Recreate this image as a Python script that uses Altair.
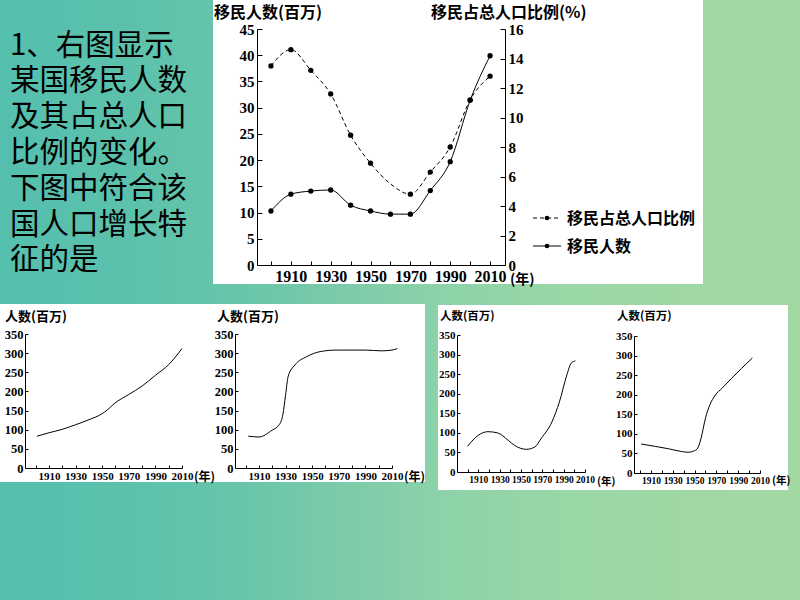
import altair as alt
import pandas as pd

# ---------------- data ----------------
years = [1900, 1910, 1920, 1930, 1940, 1950, 1960, 1970, 1980, 1990, 2000, 2010]
immigrants = [10.3, 13.5, 14.1, 14.3, 11.4, 10.3, 9.7, 9.7, 14.2, 19.7, 31.4, 39.9]
share = [13.5, 14.6, 13.2, 11.6, 8.8, 6.9, 5.5, 4.8, 6.3, 8.0, 11.2, 12.8]
share_marker = [1, 1, 1, 1, 1, 1, 0, 1, 1, 1, 1, 1]

count_ticks = [0, 5, 10, 15, 20, 25, 30, 35, 40, 45]
share_ticks = [0, 2, 4, 6, 8, 10, 12, 14, 16]
decades = [1900, 1910, 1920, 1930, 1940, 1950, 1960, 1970, 1980, 1990, 2000, 2010]
pop_ticks = [0, 50, 100, 150, 200, 250, 300, 350]

a_years = [1901, 1910, 1920, 1930, 1940, 1950, 1954, 1959, 1970, 1980, 1990, 2000, 2010]
a_pop = [83, 92, 101, 113, 126, 142, 152, 168, 192, 214, 242, 270, 312]

b_years = [1902, 1910, 1920, 1925, 1928, 1930, 1932, 1937, 1946, 1956, 1968, 1990, 2002, 2010, 2014]
b_pop = [83, 81, 99, 112, 140, 190, 240, 269, 291, 304, 308, 308, 306, 308, 312]

c_years = [1900, 1910, 1919, 1928, 1938, 1944, 1955, 1963, 1969, 1979, 1986, 1993, 1997, 2001]
c_pop = [66, 94, 103, 100, 81, 68, 58, 64, 86, 128, 179, 248, 278, 284]

d_years = [1901, 1914, 1926, 1938, 1944, 1950, 1953, 1956, 1960, 1964, 1969, 1975, 1984, 1993, 2003]
d_pop = [74, 68, 62, 55, 53, 57, 64, 89, 140, 174, 199, 216, 242, 267, 294]

question_lines = ["1、右图显示", "某国移民人数", "及其占总人口", "比例的变化。",
                  "下图中符合该", "国人口增长特", "征的是"]
left_title = "移民人数(百万)"
right_title = "移民占总人口比例(%)"
legend_labels = ["移民占总人口比例", "移民人数"]
small_title = "人数(百万)"
year_unit = "(年)"

# ---------------- helpers ----------------
SERIF = "Liberation Serif"
CJK = "Noto Sans CJK SC"
W, H = 800, 600
one = pd.DataFrame({"k": [0]})
LBL = "(datum.value - 1910) % 20 == 0 ? format(datum.value, 'd') : ''"


def ax(orient, offset, values, labels=True, ticks=False, domain=True, size=15,
       tick_size=5, pad=3, label_expr=None):
    kw = dict(orient=orient, offset=offset, values=values, labels=labels, ticks=ticks,
              domain=domain, tickSize=tick_size if ticks else 0, grid=False, title=None,
              labelFont=SERIF, labelFontSize=size, labelFontWeight="bold",
              labelColor="black", labelPadding=pad, labelFlush=False, labelOverlap=False,
              domainColor="black", domainWidth=1, tickColor="black", tickWidth=1,
              zindex=1, format="d")
    if label_expr:
        kw["labelExpr"] = label_expr
    return alt.Axis(**kw)


def rect(x0, y0, x1, y1, fill):
    return alt.Chart(one).mark_rect(fill=fill, strokeWidth=0).encode(
        x=alt.value(x0), x2=alt.value(x1), y=alt.value(y0), y2=alt.value(y1))


def label(text, x, y, size, font=CJK, weight="bold", align="left", baseline="middle"):
    return alt.Chart(one).mark_text(text=text, font=font, fontSize=size, fontWeight=weight,
                                    align=align, baseline=baseline, color="black").encode(
        x=alt.value(x), y=alt.value(y))


layers = []

# background gradient
grad = alt.LinearGradient(
    gradient="linear",
    stops=[alt.GradientStop(color=c, offset=o) for o, c in [
        (0.0, "#55bfae"), (0.15, "#5bc1ac"), (0.3, "#68c5aa"), (0.45, "#7fcca9"),
        (0.55, "#8dd2a9"), (0.7, "#99d7a7"), (0.85, "#9fd8a4"), (1.0, "#a3d8a2")]],
    x1=0, x2=1, y1=0, y2=0)
layers.append(alt.Chart(one).mark_rect(fill=grad).encode(
    x=alt.value(0), x2=alt.value(W), y=alt.value(0), y2=alt.value(H)))

# white panels
layers += [rect(213, 0, 703, 284, "white"),
           rect(0, 304, 212, 482, "white"),
           rect(212, 304, 425, 482, "white"),
           rect(438, 305, 612, 490, "white"),
           rect(612, 305, 788, 490, "white")]

# question text
for i, s in enumerate(question_lines):
    layers.append(label(s, 10, 45.5 + i * 35.8, 29.5, weight="normal"))

# ---------------- main chart ----------------
main_df = pd.DataFrame({"year": years, "count": immigrants, "share": share, "mark": share_marker})
mx = alt.Scale(domain=[1893, 2017.5], range=[257, 505], nice=False, zero=False)
my_c = alt.Scale(domain=[0, 45], range=[265, 29], nice=False)
my_s = alt.Scale(domain=[0, 16], range=[265, 29], nice=False)

cbase = alt.Chart(main_df).encode(
    x=alt.X("year:Q", scale=mx, axis=ax("bottom", 265 - H, decades, size=16, pad=3,
                                          label_expr=LBL)),
    y=alt.Y("count:Q", scale=my_c, axis=ax("left", -257, count_ticks)))
layers.append(alt.layer(
    cbase.mark_line(color="black", strokeWidth=1, interpolate="monotone"),
    cbase.mark_circle(size=28, color="black", opacity=1)))

sbase = alt.Chart(main_df).encode(
    x=alt.X("year:Q", scale=mx, axis=None),
    y=alt.Y("share:Q", scale=my_s, axis=ax("right", 505 - W, share_ticks)))
layers.append(alt.layer(
    sbase.mark_line(color="black", strokeWidth=1, strokeDash=[4, 3], interpolate="monotone"),
    sbase.mark_circle(size=28, color="black", opacity=1).transform_filter("datum.mark == 1")))

layers.append(alt.Chart(main_df).mark_point(opacity=0).encode(
    x=alt.X("year:Q", scale=mx, axis=ax("top", -265, decades, labels=False, ticks=True,
                                          domain=False, tick_size=4)),
    y=alt.Y("count:Q", scale=my_c, axis=ax("right", 257 - W, count_ticks, labels=False,
                                             ticks=True, domain=False, tick_size=5))))
layers.append(alt.Chart(main_df).mark_point(opacity=0).encode(
    x=alt.X("year:Q", scale=mx, axis=None),
    y=alt.Y("share:Q", scale=my_s, axis=ax("left", -505, share_ticks, labels=False,
                                             ticks=True, domain=False, tick_size=5))))

layers += [label(left_title, 214, 12.5, 16),
           label(right_title, 431, 12.5, 16),
           label(year_unit, 510, 280, 14)]

# legend
layers.append(alt.Chart(one).mark_rule(color="black", strokeWidth=1, strokeDash=[4, 3]).encode(
    x=alt.value(533), x2=alt.value(561), y=alt.value(218)))
layers.append(alt.Chart(one).mark_rule(color="black", strokeWidth=1).encode(
    x=alt.value(533), x2=alt.value(561), y=alt.value(246)))
layers.append(alt.Chart(one).mark_circle(size=22, color="black", opacity=1).encode(
    x=alt.value(547), y=alt.value(218)))
layers.append(alt.Chart(one).mark_circle(size=22, color="black", opacity=1).encode(
    x=alt.value(547), y=alt.value(246)))
layers += [label(legend_labels[0], 567, 219, 16), label(legend_labels[1], 567, 247, 16)]


# ---------------- small charts ----------------
def small(yrs, pops, xdom, xrng, yrng, xfs, yfs):
    df = pd.DataFrame({"year": yrs, "pop": pops})
    sx = alt.Scale(domain=xdom, range=xrng, nice=False, zero=False)
    sy = alt.Scale(domain=[0, 350], range=yrng, nice=False)
    ybot, x0 = yrng[0], xrng[0]
    line = alt.Chart(df).mark_line(color="black", strokeWidth=1, interpolate="monotone").encode(
        x=alt.X("year:Q", scale=sx, axis=ax("bottom", ybot - H, decades, size=xfs, pad=2,
                                              label_expr=LBL)),
        y=alt.Y("pop:Q", scale=sy, axis=ax("left", -x0, pop_ticks, size=yfs, pad=2)))
    tk = alt.Chart(df).mark_point(opacity=0).encode(
        x=alt.X("year:Q", scale=sx, axis=ax("top", -ybot, decades, labels=False, ticks=True,
                                              domain=False, tick_size=3)),
        y=alt.Y("pop:Q", scale=sy, axis=ax("right", x0 - W, pop_ticks, labels=False,
                                             ticks=True, domain=False, tick_size=3)))
    return [line, tk]


layers += small(a_years, a_pop, [1892, 2010], [25, 182], [468, 334], 11, 12.5)
layers += small(b_years, b_pop, [1892, 2010], [235, 392], [468, 334], 11, 12.5)
layers += small(c_years, c_pop, [1890, 2010], [457, 585], [472, 335], 9.5, 11)
layers += small(d_years, d_pop, [1894.5, 2010], [634, 760], [473, 336], 9.5, 11)

layers += [label(small_title, 5, 317, 13), label(small_title, 217, 317, 13),
           label(small_title, 440, 317, 11.5), label(small_title, 617, 317, 11.5),
           label(year_unit, 194, 477, 12), label(year_unit, 404, 477, 12),
           label(year_unit, 597, 482, 10.5), label(year_unit, 772, 481, 10.5)]

chart = alt.layer(*layers).resolve_scale(x="independent", y="independent").resolve_axis(
    x="independent", y="independent").properties(
    width=W, height=H, autosize=alt.AutoSizeParams(type="none"), padding=0
).configure_view(stroke=None)

chart.save("out.html", embed_options={"renderer": "svg", "actions": False})
